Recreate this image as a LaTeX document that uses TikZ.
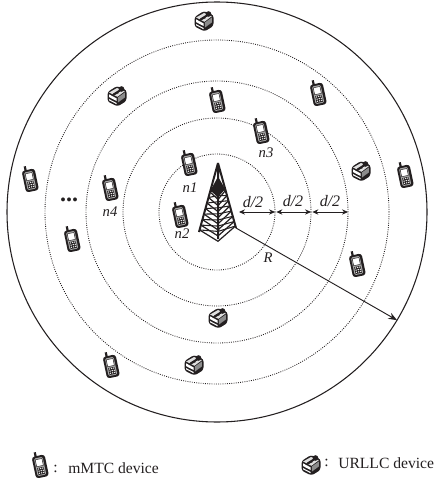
\documentclass[tikz,border=0pt]{standalone}
\usepackage{fontspec}
\setmainfont{Liberation Serif}
\usepackage{xcolor}
\usetikzlibrary{positioning,arrows.meta,calc}
\definecolor{inkdark}{RGB}{35,31,32}
\tikzset{
  ring/.style={circle, draw=inkdark, line width=0.65pt, densely dotted, inner sep=0pt, outer sep=0pt},
  lbl/.style={font=\fontsize{11}{13}\selectfont\itshape, text=inkdark, inner sep=0pt},
  halflbl/.style={font=\fontsize{12}{14}\selectfont\itshape, text=inkdark, inner sep=0pt},
  legend/.style={font=\fontsize{11.7}{14}\selectfont, text=inkdark, inner sep=0pt, anchor=west},
  halfarr/.style={{Stealth[length=4.5pt,width=4pt]}-{Stealth[length=4.5pt,width=4pt]}, line width=0.7pt, draw=inkdark},
  radarr/.style={-{Stealth[length=6.5pt,width=5pt]}, line width=0.7pt, draw=inkdark},
  phone/.pic={
    \begin{scope}[rotate=12]
      \fill[inkdark] (-3.6,-8) rectangle (-1.4,-13.5);
      \fill[inkdark, rounded corners=2.2pt] (-6.6,-9.5) rectangle (6.6,12.5);
      \fill[black!35, rounded corners=1pt] (-4.6,-7.5) rectangle (4.2,10.5);
      \fill[white, draw=inkdark, line width=0.35pt] (-3.6,-6) rectangle (3.2,1);
      \fill[inkdark] (-3.4,2.5) rectangle (3,9.5);
      \foreach \kx in {-2.2,0,2.1}{\foreach \ky in {3.6,5.8,8}{\fill[white] (\kx,\ky) circle(0.55pt);}}
    \end{scope}
  },
  printer/.pic={
    \fill[inkdark, rounded corners=2pt] (-9.5,-4) -- (0,-10) -- (9.5,-6) -- (9.5,5) -- (0.5,10.5) -- (-9.5,5.5) -- cycle;
    \fill[black!12] (-7.8,-3.5) -- (0,-8) -- (7.8,-4.8) -- (0.4,0.8) -- cycle;
    \fill[black!45] (0.8,1.5) -- (7.8,-3.5) -- (7.8,1.5) -- (1,6.5) -- cycle;
    \fill[white] (-7.8,-1.6) -- (-0.4,2.4) -- (-0.4,5) -- (-7.8,1.2) -- cycle;
    \fill[white] (-7.8,3.2) -- (-0.4,7) -- (-0.4,8.2) -- (-7.8,4.4) -- cycle;
    \draw[inkdark, line width=1.5pt] (-3.5,-1.5) -- (4.5,-6.5);
    \fill[inkdark] (4.5,-7) circle(2.1pt);
    \draw[inkdark, line width=0.9pt] (-5,-0.5) -- (1.5,-3.5);
  },
}
\begin{document}
\begin{tikzpicture}[x=0.75pt,y=-0.75pt]
    \useasboundingbox (0,0) rectangle (435,481);
    % cells
    \coordinate (bs) at (217,212);
    \node[ring, minimum size=87pt] (ring1) at (bs) {};
    \node[ring, minimum size=141pt] (ring2) at (bs) {};
    \node[ring, minimum size=196.5pt] (ring3) at (bs) {};
    \node[ring, minimum size=258pt] (ring4) at (bs) {};
    \node[ring, minimum size=315pt, solid, line width=0.8pt] (ring5) at (bs) {};
    % tower
    \coordinate (top) at (218,163);
    \coordinate (legl) at (199,232);
    \coordinate (legr) at (236,228);
    \coordinate (legf) at (218,239);
    \draw[inkdark, line width=1.4pt] (top) -- ($(top)!0.3!(legf)$);
    \fill[inkdark] ($(top)!0.18!(legf)$) -- ($(top)!0.4!(legl)$) -- ($(top)!0.45!(legf)$) -- ($(top)!0.4!(legr)$) -- cycle;
    \draw[inkdark, line width=1.5pt] (top) -- (legl) (top) -- (legr) (top) -- (legf);
    \foreach \t in {0.42,0.5,0.58,0.66,0.74,0.82,0.9,0.97}{
      \draw[inkdark, line width=0.9pt] ($(top)!\t!(legl)$) -- ($(top)!\t+0.06!(legf)$) -- ($(top)!\t!(legr)$);
      \draw[inkdark, line width=0.8pt] ($(top)!\t!(legl)$) -- ($(top)!\t-0.07!(legf)$) -- ($(top)!\t!(legr)$);
    }
    % devices
    \foreach \x/\y [count=\i] in {189/163,180/215,261/131,217/100,110/188,72/239,30/179,318/93,405/175,357/264,111/365}{
      \pic (phone\i) at (\x,\y) {phone};
    }
    \foreach \x/\y [count=\i] in {204/21,117/96,361/171,218/318,194/365}{
      \pic (printer\i) at (\x,\y) {printer};
    }
    \node[font=\fontsize{18}{18}\selectfont\bfseries, text=inkdark, inner sep=0pt] (more) at (69,200) {...};
    % labels
    \node[lbl] (n1) at (190,188) {n1};
    \node[lbl] (n2) at (182,234) {n2};
    \node[lbl] (n3) at (266,153) {n3};
    \node[lbl] (n4) at (110,212) {n4};
    \node[lbl] (rlabel) at (268,258) {R};
    % distances
    \coordinate (start) at (239,212);
    \coordinate (base) at (236,228);
    \draw[halfarr] (start) -- (ring1.east);
    \draw[halfarr, shorten <=1pt] (ring1.east) -- (ring2.east);
    \draw[halfarr, shorten <=1pt] (ring2.east) -- (ring3.east);
    \node[halflbl] (half1) at (253,202) {d/2};
    \node[halflbl] (half2) at (293,201) {d/2};
    \node[halflbl] (half3) at (330,201) {d/2};
    \draw[radarr] (base) -- (ring5.-31.6);
    % legend
    \pic (keyphone) at (40,465) {phone};
    \node[legend] (colon1) at (53,469) {:};
    \node[legend] (keymmtc) at (68,468) {mMTC device};
    \pic (keyprinter) at (311,465) {printer};
    \node[legend] (colon2) at (324,463) {:};
    \node[legend] (keyurllc) at (338,463) {URLLC device};
\end{tikzpicture}
\end{document}
